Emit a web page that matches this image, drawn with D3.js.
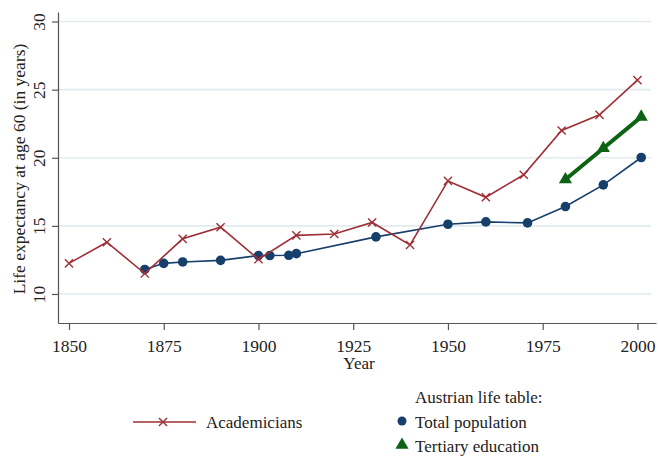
<!DOCTYPE html>
<html lang="en">
<head>
<meta charset="UTF-8">
<title>Life expectancy at age 60</title>
<script src="https://d3js.org/d3.v7.min.js"></script>
<style>
  body{margin:0;background:#fff;}
  .chart text{font-family:"Liberation Serif","DejaVu Serif",serif;fill:#222;}
  .axis path,.axis line{stroke:#555;stroke-width:1.2;}
  .grid line{stroke:#e1ebf0;stroke-width:1.6;}
</style>
</head>
<body>
<svg class="chart"></svg>
<script>
// academicians
const acadYears=[1850,1860,1870,1880,1890,1900,1910,1920,1930,1940,1950,1960,1970,1980,1990,2000];
const acadValues=[12.25,13.8,11.5,14.05,14.9,12.55,14.3,14.4,15.25,13.6,18.3,17.1,18.75,22.0,23.15,25.7];
// Austrian life table: total population
const totalYears=[1870,1875,1880,1890,1900,1903,1908,1910,1931,1950,1960,1971,1981,1991,2001];
const totalValues=[11.8,12.25,12.35,12.47,12.82,12.82,12.84,12.96,14.19,15.12,15.29,15.22,16.42,18.01,20.02];
// Austrian life table: tertiary education
const tertYears=[1981,1991,2001];
const tertValues=[18.4,20.7,23.0];

const xTicks=[1850,1875,1900,1925,1950,1975,2000];
const yTicks=[10,15,20,25,30];

const W=658,H=456;
const mLeft=58,mRight=656,mTop=12,mBottom=323;

const svg=d3.select('.chart').attr('width',W).attr('height',H);

const x=d3.scaleLinear().domain([1847.1,2004.9]).range([mLeft,mRight]);
const y=d3.scaleLinear().domain([7.87,30.7]).range([mBottom,mTop]);

// grid
svg.append('g').attr('class','grid')
  .selectAll('line').data(yTicks).enter().append('line')
  .attr('x1',mLeft+1).attr('x2',651)
  .attr('y1',d=>y(d)).attr('y2',d=>y(d));

// axes
const xAxis=svg.append('g').attr('class','axis')
  .attr('transform','translate(0,'+mBottom+')')
  .call(d3.axisBottom(x).tickValues(xTicks).tickSize(7).tickSizeOuter(0).tickFormat(d3.format('d')));
xAxis.selectAll('text').attr('font-size','17.5px').attr('y',28.5).attr('dy',0);

const yAxis=svg.append('g').attr('class','axis')
  .attr('transform','translate('+mLeft+',0)')
  .call(d3.axisLeft(y).tickValues(yTicks).tickSize(6).tickSizeOuter(0));
yAxis.selectAll('.tick text')
  .attr('font-size','17.5px')
  .attr('transform','rotate(-90)')
  .attr('x',0).attr('y',-13)
  .attr('dy',0)
  .attr('text-anchor','middle');

svg.append('text').attr('x',359).attr('y',369)
  .attr('text-anchor','middle').attr('font-size','17px').text('Year');
svg.append('text')
  .attr('transform','translate(25,169) rotate(-90)')
  .attr('text-anchor','middle').attr('font-size','17.5px')
  .text('Life expectancy at age 60 (in years)');

const red='#9e2f36',blue='#163f6b',green='#0d6313';
const line=d3.line().x(d=>x(d[0])).y(d=>y(d[1]));

const acad=d3.zip(acadYears,acadValues);
const total=d3.zip(totalYears,totalValues);
const tert=d3.zip(tertYears,tertValues);

const plot=svg.append('g');

// total population
plot.append('path').datum(total).attr('d',line)
  .attr('fill','none').attr('stroke',blue).attr('stroke-width',1.6);
plot.selectAll('.dot').data(total).enter().append('circle')
  .attr('cx',d=>x(d[0])).attr('cy',d=>y(d[1])).attr('r',4.8).attr('fill',blue);

// academicians
plot.append('path').datum(acad).attr('d',line)
  .attr('fill','none').attr('stroke',red).attr('stroke-width',1.6);
const cross=d3.symbol().type(d3.symbolX).size(45);
plot.selectAll('.xm').data(acad).enter().append('path')
  .attr('d',cross)
  .attr('transform',d=>'translate('+x(d[0])+','+y(d[1])+')')
  .attr('fill','none').attr('stroke',red).attr('stroke-width',1.4);

// tertiary education
plot.append('path').datum(tert).attr('d',line)
  .attr('fill','none').attr('stroke',green).attr('stroke-width',4);
const tri=d3.symbol().type(d3.symbolTriangle).size(75);
plot.selectAll('.tri').data(tert).enter().append('path')
  .attr('d',tri)
  .attr('transform',d=>'translate('+x(d[0])+','+y(d[1])+')')
  .attr('fill',green);

// legend
const lg=svg.append('g');
lg.append('line').attr('x1',133).attr('x2',196).attr('y1',422).attr('y2',422)
  .attr('stroke',red).attr('stroke-width',1.6);
lg.append('path').attr('d',cross).attr('transform','translate(163,422)')
  .attr('fill','none').attr('stroke',red).attr('stroke-width',1.4);
lg.append('text').attr('x',206).attr('y',427.5).attr('font-size','17px').text('Academicians');

lg.append('text').attr('x',415).attr('y',403).attr('font-size','17px').text('Austrian life table:');
lg.append('circle').attr('cx',402).attr('cy',421).attr('r',4.5).attr('fill',blue);
lg.append('text').attr('x',415).attr('y',427.5).attr('font-size','17px').text('Total population');
lg.append('path').attr('d',tri).attr('transform','translate(402,445)').attr('fill',green);
lg.append('text').attr('x',415).attr('y',452).attr('font-size','17px').text('Tertiary education');
</script>
</body>
</html>
